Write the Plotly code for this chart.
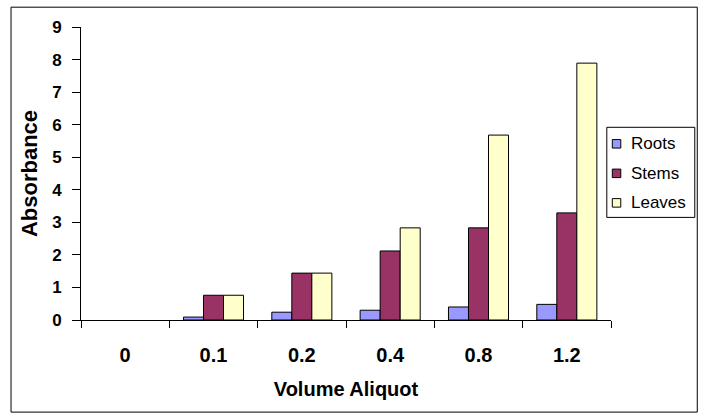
import plotly.graph_objects as go

categories = ["0", "0.1", "0.2", "0.4", "0.8", "1.2"]
roots = [0, 0.09, 0.24, 0.30, 0.40, 0.48]
stems = [0, 0.76, 1.44, 2.12, 2.83, 3.29]
leaves = [0, 0.76, 1.44, 2.83, 5.68, 7.89]
series_names = ["Roots", "Stems", "Leaves"]
series_colors = ["#9999FF", "#993366", "#FFFFCC"]
y_ticks = list(range(0, 10))

FONT = "Liberation Sans, Arial, sans-serif"
W, H = 705, 420
L, R, T, B = 80.5, 94.3, 27.3, 100
pw, ph = W - L - R, H - T - B


def px_x(px):
    return (px - L) / pw


def px_y(py):
    return (H - B - py) / ph


fig = go.Figure()
for name, vals, col in zip(series_names, [roots, stems, leaves], series_colors):
    fig.add_trace(go.Bar(
        x=categories, y=vals, name=name, showlegend=False,
        marker=dict(color=col, line=dict(color="black", width=[0 if v == 0 else 1 for v in vals])),
    ))

shapes = [
    # outer chart border
    dict(type="rect", xref="paper", yref="paper",
         x0=px_x(10.5), x1=px_x(697), y0=px_y(412), y1=px_y(7.5),
         line=dict(color="black", width=1), fillcolor="rgba(0,0,0,0)", layer="below"),
    # legend box
    dict(type="rect", xref="paper", yref="paper",
         x0=px_x(606.5), x1=px_x(694.5), y0=px_y(217.5), y1=px_y(127.5),
         line=dict(color="black", width=1), fillcolor="white", layer="above"),
]
annotations = []
legend_centers = [144, 173.5, 203]
for name, col, cy in zip(series_names, series_colors, legend_centers):
    shapes.append(dict(type="rect", xref="paper", yref="paper",
                       x0=px_x(612), x1=px_x(620.5), y0=px_y(cy + 4.25), y1=px_y(cy - 4.25),
                       line=dict(color="black", width=1), fillcolor=col, layer="above"))
    annotations.append(dict(text=name, xref="paper", yref="paper", x=px_x(629), y=px_y(cy),
                            xanchor="left", yanchor="middle", showarrow=False,
                            font=dict(size=17, family=FONT, color="black")))

fig.update_layout(
    width=W, height=H,
    margin=dict(l=L, r=R, t=T, b=B, autoexpand=False),
    paper_bgcolor="white", plot_bgcolor="white",
    barmode="group", bargap=0.32, bargroupgap=0,
    font=dict(family=FONT, color="black"),
    showlegend=False,
    xaxis=dict(type="category", showline=True, linecolor="black", linewidth=1,
               ticks="outside", tickson="boundaries", ticklen=7, tickcolor="black",
               tickfont=dict(size=20, family=FONT, weight="bold"), ticklabelstandoff=17,
               showgrid=False, zeroline=False, automargin=False,
               title=dict(text="<b>Volume Aliquot</b>", font=dict(size=20, family=FONT), standoff=16)),
    yaxis=dict(range=[0, 9], tickvals=y_ticks, showline=True, linecolor="black", linewidth=1,
               ticks="outside", ticklen=8, tickcolor="black",
               tickfont=dict(size=17, family=FONT, weight="bold"), ticklabelstandoff=7,
               showgrid=False, zeroline=False, automargin=False,
               title=dict(text="<b>Absorbance</b>", font=dict(size=22, family=FONT), standoff=8)),
    shapes=shapes,
    annotations=annotations,
)

fig.write_html("out.html", config={"displayModeBar": False},
               post_script="document.body.style.margin='0px';")
